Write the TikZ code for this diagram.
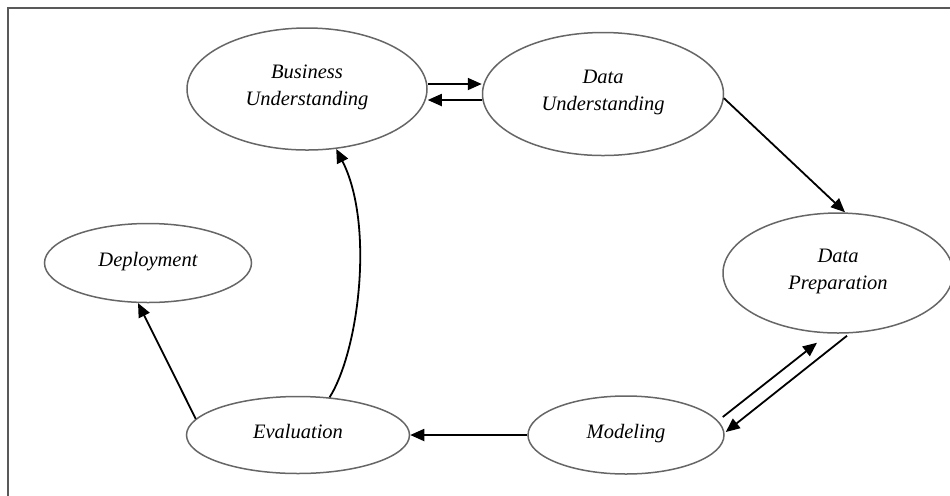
\documentclass[tikz,border=0pt]{standalone}
\usepackage{fontspec}
\setmainfont{Liberation Serif}
\usetikzlibrary{arrows.meta,shapes.geometric}

\begin{document}
\begin{tikzpicture}[
    x=0.5pt, y=0.5pt,
    font=\fontsize{10.25}{13.5}\selectfont\itshape,
    phase/.style={draw=black!60, line width=0.75pt, ellipse, align=center, inner sep=0pt, text depth=4pt},
    arrow/.style={-{Triangle[length=7pt,width=6pt]}, line width=0.9pt, black}
]

% Frame
\clip (0,0) rectangle (950,-495);
\draw[black!65, line width=1pt] (8,-8) rectangle (960,-505);

% Phases
\node[phase, minimum width=120pt, minimum height=61pt] (bu) at (307,-89) {Business\\Understanding};
\node[phase, minimum width=120.5pt, minimum height=61.5pt] (du) at (603,-94) {Data\\Understanding};
\node[phase, minimum width=115pt, minimum height=60pt] (dp) at (838,-273) {Data\\Preparation};
\node[phase, minimum width=98pt, minimum height=39pt] (mod) at (626,-435) {Modeling};
\node[phase, minimum width=111.5pt, minimum height=38.5pt] (eval) at (298,-435) {Evaluation};
\node[phase, minimum width=103.5pt, minimum height=39.5pt] (dep) at (148,-263) {Deployment};

% Arrows
\draw[arrow] ([yshift=2.5pt]bu.east) -- ([yshift=5pt]du.west);
\draw[arrow] ([yshift=-3pt]du.west) -- ([yshift=-5.5pt]bu.east);
\draw[arrow] (du.-2) -- ([xshift=3.5pt]dp.north);
\draw[arrow] ([shift={(9,-2)}]dp.south) -- ([shift={(1,3)}]mod.east);
\draw[arrow] ([shift={(-2,18)}]mod.east) -- ([shift={(-21,-9)}]dp.south);
\draw[arrow] (mod.west) -- (eval.east);
\draw[arrow] (eval.171) -- (dep.256);
\draw[arrow] (eval.50) to[out=58, in=-63, out distance=28pt, in distance=42pt] (bu.-64);

\end{tikzpicture}
\end{document}
